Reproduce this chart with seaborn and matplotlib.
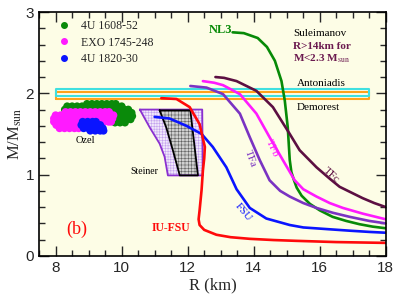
import numpy as np
import pandas as pd
import matplotlib
matplotlib.use('Agg')
import matplotlib.pyplot as plt
from matplotlib.lines import Line2D
import seaborn as sns

# Mass-radius curves (R in km, M in solar masses)
nl3_R = [13.36, 13.7, 14.12, 14.4, 14.64, 14.84, 14.94, 15.03, 15.09, 15.14, 15.22, 15.3, 15.45, 15.7, 16.0, 16.39, 16.8, 17.2, 17.6, 18.0]
nl3_M = [2.75, 2.74, 2.68, 2.57, 2.40, 2.15, 1.91, 1.58, 1.18, 1.03, 0.93, 0.84, 0.74, 0.64, 0.56, 0.48, 0.43, 0.39, 0.36, 0.34]

tfc_R = [12.84, 13.1, 13.48, 14.08, 14.58, 15.09, 15.39, 15.9, 16.3, 16.6, 17.0, 17.3, 17.65, 18.0]
tfc_M = [2.20, 2.19, 2.15, 2.03, 1.83, 1.50, 1.30, 1.09, 0.95, 0.85, 0.77, 0.71, 0.65, 0.60]

tfb_R = [12.46, 12.8, 13.07, 13.58, 14.08, 14.48, 14.88, 15.24, 15.5, 15.9, 16.3, 16.7, 17.3, 18.0]
tfb_M = [2.15, 2.13, 2.10, 1.99, 1.75, 1.46, 1.18, 0.93, 0.82, 0.73, 0.65, 0.59, 0.52, 0.45]

tfa_R = [12.08, 12.57, 13.07, 13.58, 13.88, 14.18, 14.48, 14.8, 15.09, 15.5, 15.9, 16.4, 16.91, 17.5, 18.0]
tfa_M = [2.09, 2.07, 1.99, 1.75, 1.46, 1.18, 0.93, 0.80, 0.73, 0.65, 0.59, 0.53, 0.48, 0.43, 0.40]

fsu_R = [11.0, 11.45, 11.96, 12.42, 12.76, 13.17, 13.48, 13.88, 14.38, 15.09, 15.5, 16.2, 16.91, 17.5, 18.0]
fsu_M = [1.71, 1.69, 1.60, 1.50, 1.34, 1.09, 0.82, 0.59, 0.46, 0.38, 0.35, 0.33, 0.31, 0.295, 0.285]

iufsu_R = [11.2, 11.66, 12.06, 12.36, 12.52, 12.5, 12.46, 12.42, 12.36, 12.33, 12.36, 12.5, 12.87, 13.3, 13.88, 14.6, 15.3, 16.5, 18.0]
iufsu_M = [1.94, 1.93, 1.83, 1.62, 1.34, 1.2, 1.05, 0.81, 0.56, 0.45, 0.38, 0.32, 0.26, 0.23, 0.21, 0.195, 0.185, 0.17, 0.16]

eos_names = ['NL3', 'TFc', 'TFb', 'TFa', 'FSU', 'IU-FSU']
eos_colors = ['#078a07', '#5c0f42', '#ff1aff', '#7a33c2', '#0a14ff', '#ff0a0a']

# Steiner constraint regions
steiner_out_R = [10.55, 12.44, 12.46, 11.4, 11.3, 11.15, 10.85, 10.55]
steiner_out_M = [1.80, 1.80, 0.99, 0.99, 1.22, 1.38, 1.58, 1.80]
steiner_in_R = [11.15, 12.08, 12.31, 11.76, 11.55, 11.35, 11.15]
steiner_in_M = [1.79, 1.79, 0.99, 0.99, 1.30, 1.58, 1.79]

# Antoniadis / Demorest mass measurements
band_R = [8.0, 17.5]
antoniadis_M = [1.97, 2.05]
demorest_M = [1.93, 2.01]

# Ozel clusters: rows of (M, list of R)
green_rows = [(1.87, [8.95, 9.1, 9.25, 9.4, 9.55, 9.7, 9.82]),
              (1.84, [8.35, 8.5, 8.65, 8.8, 8.95, 9.1, 9.25, 9.4, 9.55, 9.7, 9.85, 10.0]),
              (1.80, [8.28, 8.43, 8.58, 8.73, 8.88, 9.03, 9.18, 9.33, 9.48, 9.63, 9.78, 9.93, 10.08, 10.2]),
              (1.76, [9.6, 9.75, 9.9, 10.05, 10.2, 10.3]),
              (1.72, [9.65, 9.8, 9.95, 10.1, 10.25, 10.32]),
              (1.68, [9.7, 9.85, 10.0, 10.15, 10.27]),
              (1.64, [9.8, 9.95, 10.1])]
magenta_rows = [(1.77, [8.3, 8.45, 8.6, 8.75, 8.9, 9.05, 9.2, 9.35, 9.5, 9.62]),
                (1.73, [8.0, 8.15, 8.3, 8.45, 8.6, 8.75, 8.9, 9.05, 9.2, 9.35, 9.5, 9.65, 9.75]),
                (1.69, [7.95, 8.1, 8.25, 8.4, 8.55, 8.7, 8.85, 9.0, 9.15, 9.3, 9.45, 9.6, 9.72]),
                (1.65, [7.95, 8.1, 8.25, 8.4, 8.55, 8.7, 8.85, 9.0, 9.15, 9.3, 9.45, 9.6, 9.68]),
                (1.61, [8.02, 8.17, 8.32, 8.47, 8.62, 8.77, 8.92, 9.07, 9.22, 9.37]),
                (1.57, [8.12, 8.27, 8.42, 8.57, 8.7])]
blue_rows = [(1.65, [8.82, 8.97, 9.12, 9.22]),
             (1.61, [8.78, 8.93, 9.08, 9.23, 9.35]),
             (1.57, [8.85, 9.0, 9.15, 9.3, 9.43]),
             (1.54, [9.05, 9.2, 9.35, 9.45])]
source_names = ['4U 1608-52', 'EXO 1745-248', '4U 1820-30']
source_colors = ['#0a8a0a', '#ff1aff', '#0a14ff']


def rows_to_df(rows, name):
    pts = [(r, m) for m, rs in rows for r in rs]
    return pd.DataFrame({'R': [p[0] for p in pts], 'M': [p[1] for p in pts], 'src': name})


curves = pd.concat([
    pd.DataFrame({'R': r, 'M': m, 'eos': n})
    for r, m, n in zip([nl3_R, tfc_R, tfb_R, tfa_R, fsu_R, iufsu_R],
                       [nl3_M, tfc_M, tfb_M, tfa_M, fsu_M, iufsu_M], eos_names)
], ignore_index=True)

clusters = pd.concat([rows_to_df(green_rows, source_names[0]),
                      rows_to_df(magenta_rows, source_names[1]),
                      rows_to_df(blue_rows, source_names[2])], ignore_index=True)

sns.set_style('ticks')
plt.rcParams['font.family'] = ['Liberation Sans', 'DejaVu Sans']
plt.rcParams['mathtext.fontset'] = 'stix'
plt.rcParams['hatch.linewidth'] = 0.4
serif = ['Liberation Serif', 'DejaVu Serif']

fig = plt.figure(figsize=(3.99, 3.0), dpi=100)
ax = fig.add_axes([0.098, 0.147, 0.869, 0.813])
ax.set_facecolor('#fdfde6')

# Steiner regions
ax.fill(steiner_out_R, steiner_out_M, facecolor='#f1e8fb', edgecolor='#c4a3ee',
        hatch='++++++', lw=0)
ax.plot(steiner_out_R, steiner_out_M, color='#8a2fd0', lw=1.3)
ax.fill(steiner_in_R, steiner_in_M, facecolor='#d0d0d0', edgecolor='#606060',
        hatch='+++++', lw=0)
ax.plot(steiner_in_R, steiner_in_M, color='black', lw=1.3)

# Mass bands
for mass, col in [(demorest_M, '#ffa31a'), (antoniadis_M, '#3fe0e0')]:
    ax.plot([band_R[0], band_R[1], band_R[1], band_R[0], band_R[0]],
            [mass[0], mass[0], mass[1], mass[1], mass[0]], color=col, lw=1.5)

# Ozel clusters
sns.scatterplot(data=clusters, x='R', y='M', hue='src', palette=source_colors,
                s=32, linewidth=0, legend=False, ax=ax)

# EOS curves
sns.lineplot(data=curves, x='R', y='M', hue='eos', palette=eos_colors,
             sort=False, estimator=None, lw=1.9, legend=False, ax=ax)

handles = [Line2D([], [], ls='none', marker='o', ms=4, color=c, label=n)
           for n, c in zip(source_names, source_colors)]
ax.legend(handles=handles, loc='upper left', bbox_to_anchor=(0.045, 0.985),
          frameon=False, prop={'family': serif, 'size': 8.5},
          handlelength=0.8, handletextpad=1.0, labelspacing=0.35, borderaxespad=0)

# Labels on the plot
ax.text(12.98, 2.78, 'NL3', color='#078a07', fontweight='bold', family=serif, fontsize=9, ha='center', va='center')
ax.text(15.2, 2.73, 'Suleimanov', color='black', family=serif, fontsize=8, va='center')
ax.text(15.2, 2.58, 'R>14km for', color='#6b1a4f', fontweight='bold', family=serif, fontsize=8, va='center')
ax.text(15.2, 2.43, r'M<2.3 M$_{\rm sun}$', color='#6b1a4f', fontweight='bold', family=serif, fontsize=8, va='center')
ax.text(15.3, 2.12, 'Antoniadis', color='black', family=serif, fontsize=8, va='center')
ax.text(15.3, 1.83, 'Demorest', color='black', family=serif, fontsize=8, va='center')
ax.text(16.35, 0.99, 'TFc', color='#5c0f42', family=serif, fontsize=8, rotation=-42, ha='center', va='center')
ax.text(14.55, 1.32, 'TFb', color='#ff1aff', family=serif, fontsize=8, rotation=-65, ha='center', va='center')
ax.text(13.9, 1.2, 'TFa', color='#7a33c2', family=serif, fontsize=8, rotation=-70, ha='center', va='center')
ax.text(13.68, 0.54, 'FSU', color='#0a14ff', family=serif, fontsize=8, rotation=-50, ha='center', va='center')
ax.text(11.5, 0.34, 'IU-FSU', color='#ff0a0a', fontweight='bold', family=serif, fontsize=8.5, ha='center', va='center')
ax.text(8.65, 0.33, '(b)', color='#ff0a0a', family=serif, fontsize=13, ha='center', va='center')
ax.text(10.7, 1.04, 'Steiner', color='black', family=serif, fontsize=7, ha='center', va='center')
ax.text(8.9, 1.42, 'Ozel', color='black', family=serif, fontsize=7.5, ha='center', va='center')

ax.set_xlim(7.5, 18)
ax.set_ylim(0, 3)
ax.set_xticks([8, 10, 12, 14, 16, 18])
ax.set_xticks(np.arange(7.5, 18.01, 0.5), minor=True)
ax.set_yticks([0, 1, 2, 3])
ax.set_yticks(np.arange(0, 3.01, 0.2), minor=True)
ax.tick_params(which='both', direction='in', top=True, right=True, width=1, labelsize=11)
ax.tick_params(which='major', length=7)
ax.tick_params(which='minor', length=4)
for sp in ax.spines.values():
    sp.set_linewidth(1.2)
    sp.set_color('black')

ax.set_xlabel('R (km)', family=serif, fontsize=12, labelpad=2)
ax.set_ylabel(r'M/M$_{\rm sun}$', family=serif, fontsize=12, labelpad=1)

fig.savefig('out.png', dpi=100)
